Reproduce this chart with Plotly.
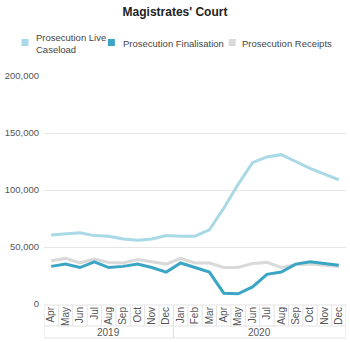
import plotly.graph_objects as go

years = ["2019"] * 9 + ["2020"] * 12
months = ["Apr", "May", "Jun", "Jul", "Aug", "Sep", "Oct", "Nov", "Dec",
          "Jan", "Feb", "Mar", "Apr", "May", "Jun", "Jul", "Aug", "Sep", "Oct", "Nov", "Dec"]

live_caseload = [60500, 61500, 62500, 60000, 59500, 57000, 56000, 57000, 60000,
                 59500, 59500, 65000, 84000, 105000, 124000, 129000, 131000, 125000, 119000, 114000, 109000]
finalisation = [33000, 35000, 32000, 37000, 32000, 33000, 35000, 32000, 28000,
                36000, 32000, 28000, 9500, 9000, 15000, 26000, 28000, 35000, 37000, 35500, 34000]
receipts = [38000, 40000, 36000, 39500, 36500, 36000, 39000, 37000, 35000,
            40000, 36000, 36000, 32000, 32000, 35500, 36500, 32000, 34500, 35000, 34000, 33000]

names = ["Prosecution Live<br>Caseload", "Prosecution Finalisation", "Prosecution Receipts"]
colors = ["#a9d9e6", "#3aa5c5", "#d9d9d9"]
values = [live_caseload, finalisation, receipts]

W, H = 350, 343
L, R, T, B = 44, 3.5, 76, 39
pw = W - L - R
ph = H - T - B

def px(x):
    return (x - L) / pw

def py(y):
    return (H - B - y) / ph

x_keys = [f"{m} {y}" for m, y in zip(months, years)]

fig = go.Figure()
for i in [2, 1, 0]:
    fig.add_trace(go.Scatter(x=x_keys, y=values[i], mode="lines", name=names[i],
                             line=dict(color=colors[i], width=3), showlegend=False))

# manual legend
leg_sq_x = [25, 111.5, 232.5]
leg_tx_x = [34, 121, 240]
for i in range(3):
    fig.add_shape(type="rect", xref="paper", yref="paper",
                  x0=px(leg_sq_x[i] - 3.5), x1=px(leg_sq_x[i] + 3.5),
                  y0=py(42.5 + 3.5), y1=py(42.5 - 3.5),
                  fillcolor=colors[i], line=dict(width=0))
    fig.add_annotation(text=names[i], xref="paper", yref="paper",
                       x=px(leg_tx_x[i]), y=py(43), xanchor="left", yanchor="middle",
                       showarrow=False, align="left",
                       font=dict(size=9.5, color="#444"))

# category axis boxes
n = len(months)
line_c = "#e3e3e3"
yt, ym, yb = py(305), py(326), py(338)
for i in range(n + 1):
    fig.add_shape(type="line", xref="x", yref="paper", x0=i - 0.5, x1=i - 0.5,
                  y0=ym, y1=yt, line=dict(color=line_c, width=1))
for yy in [yt, ym, yb]:
    fig.add_shape(type="line", xref="x", yref="paper", x0=-0.5, x1=n - 0.5,
                  y0=yy, y1=yy, line=dict(color=line_c, width=1))
# year groups
groups = []
for i, yv in enumerate(years):
    if not groups or groups[-1][0] != yv:
        groups.append([yv, i, i])
    else:
        groups[-1][2] = i
for yv, s, e in groups:
    for xx in [s - 0.5, e + 0.5]:
        fig.add_shape(type="line", xref="x", yref="paper", x0=xx, x1=xx,
                      y0=yb, y1=ym, line=dict(color=line_c, width=1))
    fig.add_annotation(text=yv, xref="x", yref="paper", x=(s + e) / 2, y=py(332),
                       xanchor="center", yanchor="middle", showarrow=False,
                       font=dict(size=10, color="#555"))

fig.update_layout(
    width=W, height=H,
    margin=dict(l=L, r=R, t=T, b=B),
    paper_bgcolor="white", plot_bgcolor="white",
    font=dict(family="Liberation Sans, Arial, sans-serif", size=10, color="#555"),
    title=dict(text="<b>Magistrates' Court</b>", x=0.5, xanchor="center",
               y=1 - 12 / H, yanchor="middle", font=dict(size=12, color="#222")),
    showlegend=False,
)
fig.update_yaxes(range=[0, 200000], tickvals=[0, 50000, 100000, 150000, 200000],
                 tickformat=",", gridcolor="#e6e6e6", zeroline=False, showline=False,
                 tickfont=dict(size=9.5, color="#555"), ticklabelstandoff=4)
fig.update_xaxes(type="category", range=[-0.5, n - 0.5], tickvals=x_keys, ticktext=months,
                 tickangle=-90, showgrid=False, showline=False, ticks="",
                 tickfont=dict(size=10, color="#555"))

fig.write_html("out.html")
